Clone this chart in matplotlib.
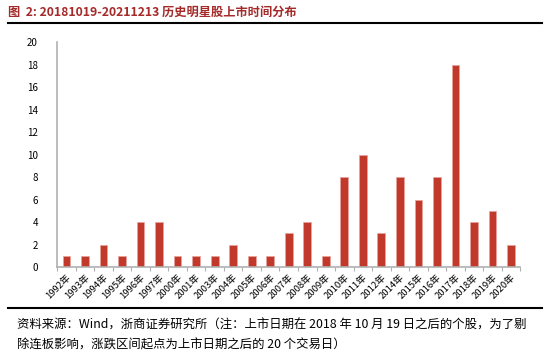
import numpy as np
import matplotlib
matplotlib.use("Agg")
import matplotlib.pyplot as plt
from matplotlib.lines import Line2D

plt.rcParams['font.family'] = ['Noto Sans CJK SC', 'DejaVu Sans']

years = ["1992年", "1993年", "1994年", "1995年", "1996年", "1997年", "2000年",
         "2001年", "2003年", "2004年", "2005年", "2006年", "2007年", "2008年",
         "2009年", "2010年", "2011年", "2012年", "2014年", "2015年", "2016年",
         "2017年", "2018年", "2019年", "2020年"]
counts = [1, 1, 2, 1, 4, 4, 1, 1, 1, 2, 1, 1, 3, 4, 1, 8, 10, 3, 8, 6, 8, 18, 4, 5, 2]
yticks = [0, 2, 4, 6, 8, 10, 12, 14, 16, 18, 20]

title = "图  2: 20181019-20211213 历史明星股上市时间分布"
note1 = "资料来源：Wind，浙商证券研究所（注：上市日期在 2018 年 10 月 19 日之后的个股，为了剔"
note2 = "除连板影响，涨跌区间起点为上市日期之后的 20 个交易日）"

fig = plt.figure(figsize=(5.5, 3.59), dpi=100)
ax = fig.add_axes([0.104, 0.256, 0.842, 0.627])

x = np.arange(len(years))
ax.bar(x, counts, width=0.42, color="#c0392b", edgecolor="#e8a49c", linewidth=0.5)

ax.set_xlim(-0.5, len(years) - 0.5)
ax.set_ylim(0, 20)
ax.set_yticks(yticks)
ax.set_yticklabels([str(v) for v in yticks], fontsize=7)
ax.tick_params(axis='y', length=0, pad=14)

ax.set_xticks(x)
ax.set_xticklabels(years, rotation=45, ha='right', rotation_mode='anchor', fontsize=6.8)
ax.tick_params(axis='x', length=0, pad=4)
ax.set_xticks(np.arange(len(years) + 1) - 0.5, minor=True)
ax.tick_params(axis='x', which='minor', length=3, color="#b0b0b0", width=0.8)

for s in ['top', 'right']:
    ax.spines[s].set_visible(False)
ax.spines['left'].set_color("#b0b0b0")
ax.spines['bottom'].set_color("#b0b0b0")
ax.spines['left'].set_linewidth(1.2)
ax.spines['bottom'].set_linewidth(1.2)

fig.text(0.014, 0.965, title, fontsize=8.8, fontweight='bold', color="#a52a2a",
         va='center', ha='left')
fig.add_artist(Line2D([0.015, 0.985], [0.937, 0.937], color='black', linewidth=1.5,
                      transform=fig.transFigure))
fig.add_artist(Line2D([0.015, 0.985], [0.142, 0.142], color='black', linewidth=1.5,
                      transform=fig.transFigure))
fig.text(0.031, 0.094, note1, fontsize=8.9, color='black', va='center', ha='left')
fig.text(0.031, 0.038, note2, fontsize=8.9, color='black', va='center', ha='left')

fig.savefig("out.png", dpi=100)
